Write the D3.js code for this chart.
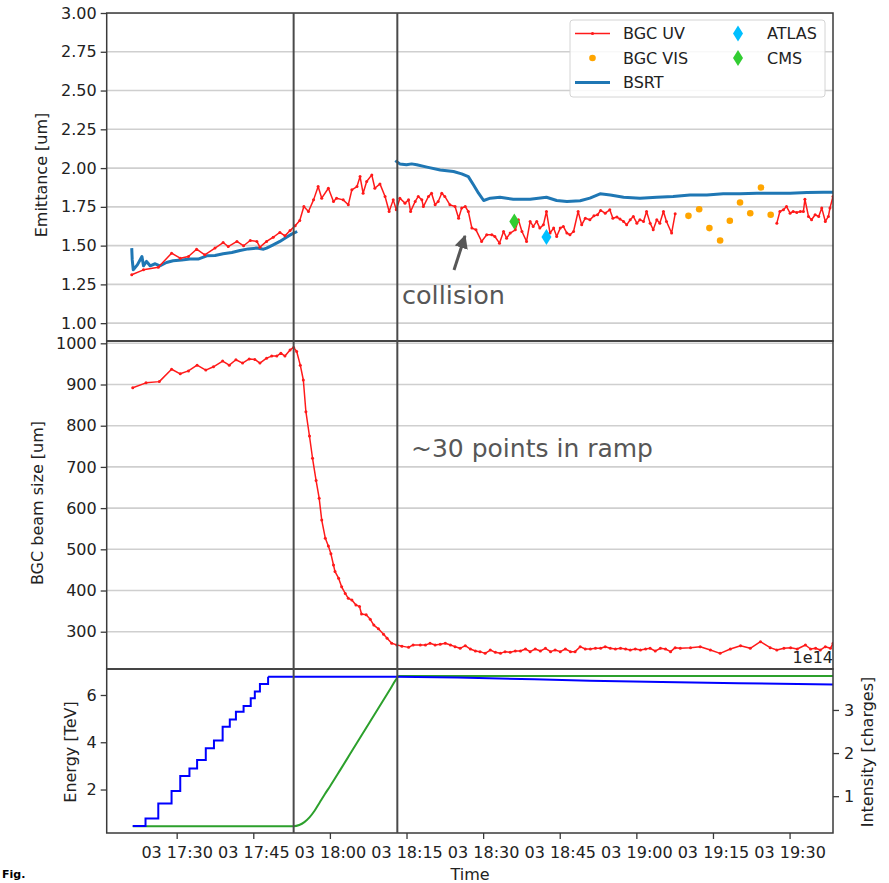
<!DOCTYPE html>
<html>
<head>
<meta charset="utf-8">
<script src="https://cdn.jsdelivr.net/npm/d3@7"></script>
<style>
  html, body { margin: 0; padding: 0; background: #fff; }
  svg { display: block; font-family: "DejaVu Sans", sans-serif; }
</style>
</head>
<body>
<svg id="chart" width="889" height="883"></svg>
<script>
// ---- data (times in minutes after 17:00 on day 03) ----
const xTickMinutes = [30, 45, 60, 75, 90, 105, 120, 135, 150];
const emitTicks = [1.00, 1.25, 1.50, 1.75, 2.00, 2.25, 2.50, 2.75, 3.00];
const sizeTicks = [300, 400, 500, 600, 700, 800, 900, 1000];
const energyTicks = [2, 4, 6];
const intensityTicks = [1, 2, 3];

// BGC UV emittance [um] (null marks the gap in the data)
const uvEmitTime = [21.2, 23.5, 26.4, 29.0, 30.7, 32.3, 33.9, 35.5, 37.5, 39.1, 40.1, 41.8, 43.1, 44.4, 45.7, 46.3, 47.6, 48.9, 50.2, 51.2, 52.2, 53.2, 54.1, 54.9, 55.8, 56.8, 57.7, 58.4, 59.7, 60.7, 61.3, 62.6, 63.6, 64.3, 65.3, 65.9, 66.5, 67.2, 68.2, 68.8, 69.8, 70.8, 71.6,
  72.4, 73.0, 73.7, 74.7, 75.4, 75.8, 76.7, 77.3, 78.0, 78.3, 79.3, 79.9, 80.6, 81.2, 81.9, 82.5, 83.5, 84.5, 85.2, 85.8, 86.5, 87.1, 87.8, 88.6, 89.7, 90.7, 91.7, 92.3, 93.2, 94.0, 94.6, 95.3, 96.3, 96.9, 97.6, 98.5, 99.2, 99.8, 100.5, 101.1, 101.8, 102.4, 103.1, 103.8, 104.4, 105.1, 105.7, 106.4, 107.0, 107.7, 108.6, 109.3, 110.0, 110.9, 111.7, 112.4, 113.0, 113.9, 114.8, 115.4, 116.2, 116.8, 117.5, 118.1, 118.8, 119.4, 120.1, 120.7, 121.4, 122.0, 122.7, 123.3, 124.0, 124.6, 125.3, 125.9, 126.9, 127.6,
  137.0,
  147.5, 148.1, 148.8, 149.4, 150.1, 150.7, 151.4, 152.1, 152.7, 153.0, 153.7, 154.3, 155.0, 155.7, 156.3, 157.0, 157.6, 157.9, 158.5];
const uvEmit = [1.312, 1.344, 1.361, 1.451, 1.419, 1.430, 1.477, 1.441, 1.484, 1.520, 1.494, 1.527, 1.499, 1.533, 1.527, 1.490, 1.527, 1.554, 1.585, 1.563, 1.597, 1.628, 1.662, 1.752, 1.720, 1.795, 1.881, 1.806, 1.870, 1.784, 1.806, 1.795, 1.763, 1.860, 1.881, 1.945, 1.838, 1.913, 1.956, 1.870, 1.898, 1.817, 1.720,
  1.795, 1.731, 1.806, 1.774, 1.795, 1.720, 1.785, 1.817, 1.795, 1.752, 1.817, 1.838, 1.763, 1.785, 1.838, 1.817, 1.763, 1.752, 1.677, 1.742, 1.752, 1.720, 1.613, 1.602, 1.527, 1.570, 1.570, 1.559, 1.516, 1.591, 1.548, 1.581, 1.602, 1.667, 1.591, 1.527, 1.656, 1.624, 1.656, 1.613, 1.634, 1.720, 1.581, 1.613, 1.559, 1.613, 1.624, 1.581, 1.570, 1.591, 1.720, 1.634, 1.677, 1.667, 1.692, 1.699, 1.727, 1.709, 1.731, 1.677, 1.684, 1.671, 1.656, 1.634, 1.667, 1.688, 1.645, 1.667, 1.656, 1.720, 1.645, 1.602, 1.667, 1.645, 1.720, 1.656, 1.581, 1.705,
  null,
  1.645, 1.720, 1.731, 1.752, 1.709, 1.720, 1.714, 1.720, 1.720, 1.799, 1.688, 1.667, 1.699, 1.688, 1.742, 1.656, 1.688, 1.742, 1.817];

// BGC VIS emittance [um]
const visTime = [130.2, 132.3, 134.3, 136.4, 138.3, 140.3, 142.3, 144.4, 146.3];
const visEmit = [1.692, 1.735, 1.613, 1.533, 1.660, 1.778, 1.709, 1.875, 1.699];

// BSRT emittance [um]
const bsrtTime = [21.2, 21.3, 21.5, 22.3, 23.2, 23.5, 24.1, 24.8, 25.8, 26.7, 28.0, 29.3, 31.0, 32.6, 34.2, 35.9, 37.5, 39.1, 40.8, 42.4, 44.0, 45.7, 47.0, 47.6, 48.9, 50.2, 51.5, 52.5, 53.6,
  63.0,
  72.8, 73.7, 75.0, 76.0, 77.0, 79.0, 81.6, 84.2, 85.8, 87.1, 88.1, 89.1, 90.1, 91.4, 93.3, 95.9, 99.2, 102.4, 104.4, 106.4, 109.0, 110.9, 112.9, 114.9, 117.5, 120.7, 124.0, 127.2, 130.5, 133.8, 137.0, 140.3, 143.6, 146.8, 150.1, 153.4, 156.6, 158.5];
const bsrtEmit = [1.484, 1.408, 1.344, 1.376, 1.430, 1.370, 1.398, 1.370, 1.383, 1.370, 1.391, 1.402, 1.408, 1.413, 1.413, 1.434, 1.436, 1.447, 1.456, 1.469, 1.479, 1.484, 1.477, 1.484, 1.505, 1.527, 1.554, 1.574, 1.591,
  null,
  2.048, 2.027, 2.021, 2.027, 2.021, 2.006, 1.988, 1.978, 1.963, 1.945, 1.892, 1.838, 1.791, 1.806, 1.812, 1.799, 1.799, 1.812, 1.791, 1.785, 1.789, 1.806, 1.834, 1.827, 1.812, 1.806, 1.812, 1.817, 1.827, 1.827, 1.834, 1.834, 1.838, 1.838, 1.838, 1.842, 1.844, 1.844];

// Experiment emittance points [um]
const atlasTime = [102.4], atlasEmit = [1.555];
const cmsTime = [96.1], cmsEmit = [1.656];

// BGC UV beam size [um]
const uvSizeTime = [21.4, 24.0, 26.6, 29.0, 30.7, 32.3, 34.0, 35.7, 37.2, 39.0, 40.3, 41.6, 42.9, 44.2, 45.3, 46.3, 47.6, 48.6, 49.6, 50.4, 51.2, 52.2, 52.9, 53.5,
  54.2, 54.8, 55.3, 56.0, 56.6, 57.3, 57.9, 58.4, 59.1, 59.7, 60.2, 60.7, 61.0, 61.7, 62.3, 63.0, 63.6, 64.3, 65.1, 65.8, 66.2, 67.1, 67.9, 68.6, 69.5, 70.5, 71.2, 72.1, 73.1, 74.1, 75.4, 76.3, 77.7,
  78.7, 79.6, 80.6, 81.6, 82.6, 83.6, 84.5, 85.5, 86.5, 87.5, 88.5, 89.4, 90.4, 91.4, 92.4, 93.4, 94.3, 95.3, 96.3, 97.3, 98.3, 99.2, 100.2, 101.2, 102.2, 103.2, 104.1, 105.1, 106.1, 107.1, 108.0, 109.0, 110.0, 111.0, 112.0, 113.0, 113.9, 114.9, 115.9, 116.9, 117.9, 118.8, 119.8, 120.8, 121.8, 122.7, 123.7, 124.7, 125.7, 126.7, 127.6, 128.6,
  130.6, 132.5, 134.5, 136.4, 138.4, 140.4, 142.3, 144.3, 146.2, 147.5, 148.9, 150.2, 151.5, 153.1, 154.1, 155.1, 156.0, 157.0, 158.0, 158.5];
const uvSize = [892, 904, 907, 937, 926, 933, 947, 935, 943, 957, 947, 960, 952, 962, 961, 952, 964, 969, 969, 976, 969, 984, 990, 980,
  947, 911, 834, 775, 721, 667, 624, 571, 527, 508, 489, 462, 446, 430, 409, 393, 381, 377, 365, 361, 343, 341, 330, 316, 307, 294, 284, 272, 268, 265, 262, 268, 268,
  267.8, 271.8, 267.8, 269.4, 271.8, 267.8, 263.7, 259.7, 266.1, 258.0, 253.2, 251.6, 247.5, 255.6, 250.0, 247.5, 251.6, 250.0, 253.2, 253.2, 258.0, 251.6, 258.0, 253.2, 259.7, 251.6, 255.6, 251.6, 258.0, 251.6, 251.6, 263.7, 258.0, 258.0, 259.7, 259.7, 263.7, 259.7, 258.0, 259.7, 258.0, 255.6, 258.0, 255.6, 258.0, 259.7, 253.2, 259.7, 258.0, 251.6, 261.3, 259.7,
  261.3, 263.7, 255.6, 247.5, 258.0, 266.1, 259.7, 275.8, 261.3, 255.6, 259.7, 261.3, 258.0, 267.8, 258.0, 259.7, 255.6, 263.7, 259.7, 271.8];

// Beam energy [TeV]
const energyTime = [21.4, 52.9, 54.0, 55.0, 56.0, 57.0, 58.0, 59.0, 60.0, 62.0, 64.0, 66.0, 68.0, 70.0, 72.0, 73.0, 73.5, 158.5];
const energy = [0.45, 0.45, 0.50, 0.62, 0.82, 1.10, 1.45, 1.80, 2.13, 2.82, 3.52, 4.22, 4.92, 5.62, 6.32, 6.67, 6.80, 6.80];

// Beam intensity [1e14 charges]: injection steps, then slow decay
const injTime = [21.4, 23.9, 26.4, 29.0, 30.7, 32.5, 34.0, 35.7, 37.3, 39.0, 40.4, 41.6, 43.1, 44.5, 45.3, 46.3, 47.9];
const injIntensity = [0.31, 0.48, 0.83, 1.12, 1.47, 1.64, 1.84, 2.11, 2.29, 2.61, 2.78, 2.96, 3.09, 3.27, 3.43, 3.60, 3.77];
const decayTime = [47.9, 60.0, 73.0, 85.0, 100.0, 110.9, 125.0, 140.0, 158.5];
const decayIntensity = [3.77, 3.77, 3.77, 3.75, 3.71, 3.68, 3.65, 3.62, 3.59];

// Phase markers: start of ramp, start of collisions
const markerTimes = [52.9, 73.2];

// ---- helpers ----
const toDate = m => new Date(2018, 5, 3, 17, 0, Math.round(m * 60));
const zip = (ts, vs) => ts.map((t, i) => ({ t: toDate(t), v: vs[i] }));

const svg = d3.select("#chart");
const X0 = 106.7, X1 = 833;
const panels = { top: [13, 341], mid: [341, 669], bot: [669, 833] };
const TXT = "#222";
const SPINE = "#3a3a3a";
const GRID = "#cfcfcf";

const x = d3.scaleTime().domain([toDate(16.3), toDate(158.5)]).range([X0, X1]);
const yEmit = d3.scaleLinear().domain([0.885, 3.0]).range([panels.top[1], panels.top[0]]);
const ySize = d3.scaleLinear().domain([209.5, 1005.6]).range([panels.mid[1], panels.mid[0]]);
const yEnergy = d3.scaleLinear().domain([0.16, 7.1]).range([panels.bot[1], panels.bot[0]]);
const yInt = d3.scaleLinear().domain([0.146, 3.95]).range([panels.bot[1], panels.bot[0]]);

const defs = svg.append("defs");
Object.entries(panels).forEach(([k, [y0, y1]]) => {
  defs.append("clipPath").attr("id", "clip-" + k)
    .append("rect").attr("x", X0).attr("y", y0).attr("width", X1 - X0).attr("height", y1 - y0);
});

function styleAxis(g) {
  g.select(".domain").remove();
  g.selectAll(".tick line").attr("stroke", SPINE).attr("stroke-width", 1.3);
  g.selectAll(".tick text").attr("fill", TXT).style("font-size", "16px")
    .style("font-family", '"DejaVu Sans", sans-serif');
}

function grid(yScale, ticks, clip) {
  svg.append("g").attr("clip-path", `url(#clip-${clip})`)
    .selectAll("line").data(ticks).join("line")
    .attr("x1", X0).attr("x2", X1)
    .attr("y1", d => yScale(d)).attr("y2", d => yScale(d))
    .attr("stroke", GRID).attr("stroke-width", 1.6);
}

function yLabel(text, cx, cy) {
  svg.append("text").attr("transform", `translate(${cx},${cy}) rotate(-90)`)
    .attr("text-anchor", "middle").attr("dy", "0.35em")
    .attr("fill", TXT).style("font-size", "16px").text(text);
}

function redLine(data, yScale, clip) {
  const g = svg.append("g").attr("clip-path", `url(#clip-${clip})`);
  g.append("path").datum(data)
    .attr("fill", "none").attr("stroke", "#ff1a1a").attr("stroke-width", 1.5)
    .attr("stroke-linejoin", "round")
    .attr("d", d3.line().defined(d => d.v !== null).x(d => x(d.t)).y(d => yScale(d.v)));
  g.selectAll("circle").data(data.filter(d => d.v !== null)).join("circle")
    .attr("cx", d => x(d.t)).attr("cy", d => yScale(d.v)).attr("r", 1.5).attr("fill", "#ff1a1a");
}

const diamond = (cx, cy, w, h) => `M${cx},${cy - h / 2}L${cx + w / 2},${cy}L${cx},${cy + h / 2}L${cx - w / 2},${cy}Z`;

// ---- top panel: emittance ----
grid(yEmit, emitTicks, "top");
const gTop = svg.append("g").attr("clip-path", "url(#clip-top)");
redLine(zip(uvEmitTime, uvEmit), yEmit, "top");
gTop.append("path").datum(zip(bsrtTime, bsrtEmit))
  .attr("fill", "none").attr("stroke", "#1f77b4").attr("stroke-width", 3)
  .attr("stroke-linejoin", "round")
  .attr("d", d3.line().defined(d => d.v !== null).x(d => x(d.t)).y(d => yEmit(d.v)));
const gTopPts = svg.append("g").attr("clip-path", "url(#clip-top)");
gTopPts.selectAll("circle.vis").data(zip(visTime, visEmit)).join("circle")
  .attr("class", "vis").attr("cx", d => x(d.t)).attr("cy", d => yEmit(d.v)).attr("r", 3.3).attr("fill", "#ffa500");
gTopPts.selectAll("path.cms").data(zip(cmsTime, cmsEmit)).join("path")
  .attr("class", "cms").attr("d", d => diamond(x(d.t), yEmit(d.v), 10, 16)).attr("fill", "#32cd32");
gTopPts.selectAll("path.atlas").data(zip(atlasTime, atlasEmit)).join("path")
  .attr("class", "atlas").attr("d", d => diamond(x(d.t), yEmit(d.v), 10, 16)).attr("fill", "#00bfff");

svg.append("g").attr("transform", `translate(${X0},0)`)
  .call(d3.axisLeft(yEmit).tickValues(emitTicks).tickFormat(d3.format(".2f")).tickSize(6).tickPadding(4))
  .call(styleAxis);
yLabel("Emittance [um]", 41.5, 175);

// ---- middle panel: BGC beam size ----
grid(ySize, sizeTicks, "mid");
redLine(zip(uvSizeTime, uvSize), ySize, "mid");
svg.append("g").attr("transform", `translate(${X0},0)`)
  .call(d3.axisLeft(ySize).tickValues(sizeTicks).tickFormat(d3.format("d")).tickSize(6).tickPadding(4))
  .call(styleAxis);
yLabel("BGC beam size [um]", 37, 503);

// ---- bottom panel: energy and intensity ----
const gBot = svg.append("g").attr("clip-path", "url(#clip-bot)");
gBot.append("path").datum(zip(energyTime, energy))
  .attr("fill", "none").attr("stroke", "#2ca02c").attr("stroke-width", 2)
  .attr("d", d3.line().curve(d3.curveMonotoneX).x(d => x(d.t)).y(d => yEnergy(d.v)));
gBot.append("path").datum(zip(injTime, injIntensity))
  .attr("fill", "none").attr("stroke", "#0000ff").attr("stroke-width", 2)
  .attr("d", d3.line().curve(d3.curveStepAfter).x(d => x(d.t)).y(d => yInt(d.v)));
gBot.append("path").datum(zip(decayTime, decayIntensity))
  .attr("fill", "none").attr("stroke", "#0000ff").attr("stroke-width", 2)
  .attr("d", d3.line().x(d => x(d.t)).y(d => yInt(d.v)));

svg.append("g").attr("transform", `translate(${X0},0)`)
  .call(d3.axisLeft(yEnergy).tickValues(energyTicks).tickFormat(d3.format("d")).tickSize(6).tickPadding(4))
  .call(styleAxis);
svg.append("g").attr("transform", `translate(${X1},0)`)
  .call(d3.axisRight(yInt).tickValues(intensityTicks).tickFormat(d3.format("d")).tickSize(6).tickPadding(5))
  .call(styleAxis);
yLabel("Energy [TeV]", 70, 752);
yLabel("Intensity [charges]", 867.5, 752);
svg.append("text").attr("x", X1).attr("y", 663).attr("text-anchor", "end")
  .attr("fill", TXT).style("font-size", "16px").text("1e14");

// time axis
svg.append("g").attr("transform", `translate(0,${panels.bot[1]})`)
  .call(d3.axisBottom(x).tickValues(xTickMinutes.map(toDate))
    .tickFormat(d3.timeFormat("%d %H:%M")).tickSize(6).tickPadding(8))
  .call(styleAxis);
svg.append("text").attr("x", 470).attr("y", 880).attr("text-anchor", "middle")
  .attr("fill", TXT).style("font-size", "16px").text("Time");

// ---- frames ----
Object.values(panels).forEach(([y0, y1]) => {
  svg.append("rect").attr("x", X0).attr("y", y0).attr("width", X1 - X0).attr("height", y1 - y0)
    .attr("fill", "none").attr("stroke", SPINE).attr("stroke-width", 1.5);
});

// phase markers across all panels
svg.selectAll("line.phase").data(markerTimes).join("line")
  .attr("class", "phase")
  .attr("x1", d => x(toDate(d))).attr("x2", d => x(toDate(d)))
  .attr("y1", panels.top[0]).attr("y2", panels.bot[1])
  .attr("stroke", "#4a4a4a").attr("stroke-width", 2);

// ---- annotations ----
const ANN = "#575757";
svg.append("text").attr("x", 402).attr("y", 304).attr("fill", ANN).style("font-size", "25.5px").text("collision");
svg.append("text").attr("x", 411).attr("y", 457).attr("fill", ANN).style("font-size", "25px").text("~30 points in ramp");
defs.append("marker").attr("id", "arrowhead").attr("viewBox", "0 0 10 10")
  .attr("refX", 9).attr("refY", 5).attr("markerWidth", 4.5).attr("markerHeight", 4.5)
  .attr("markerUnits", "strokeWidth").attr("orient", "auto")
  .append("path").attr("d", "M0,0L10,5L0,10Z").attr("fill", ANN);
svg.append("line").attr("x1", 454).attr("y1", 270).attr("x2", 465).attr("y2", 236)
  .attr("stroke", ANN).attr("stroke-width", 3).attr("marker-end", "url(#arrowhead)");

// ---- legend ----
const lg = svg.append("g");
lg.append("rect").attr("x", 570).attr("y", 20).attr("width", 255).attr("height", 77).attr("rx", 3)
  .attr("fill", "#fff").attr("fill-opacity", 0.85).attr("stroke", "#d4d4d4").attr("stroke-width", 1);
const legendRows = [
  { label: "BGC UV", col: 0, row: 0, kind: "uv" },
  { label: "BGC VIS", col: 0, row: 1, kind: "vis" },
  { label: "BSRT", col: 0, row: 2, kind: "bsrt" },
  { label: "ATLAS", col: 1, row: 0, kind: "atlas" },
  { label: "CMS", col: 1, row: 1, kind: "cms" }
];
legendRows.forEach(r => {
  const cy = 33.5 + r.row * 24.5;
  const mx = r.col === 0 ? 592.5 : 738;
  const tx = r.col === 0 ? 623 : 767;
  if (r.kind === "uv") {
    lg.append("line").attr("x1", 575).attr("x2", 610).attr("y1", cy).attr("y2", cy).attr("stroke", "#ff1a1a").attr("stroke-width", 1.5);
    lg.append("circle").attr("cx", mx).attr("cy", cy).attr("r", 1.6).attr("fill", "#ff1a1a");
  } else if (r.kind === "vis") {
    lg.append("circle").attr("cx", mx).attr("cy", cy).attr("r", 3.3).attr("fill", "#ffa500");
  } else if (r.kind === "bsrt") {
    lg.append("line").attr("x1", 575).attr("x2", 610).attr("y1", cy).attr("y2", cy).attr("stroke", "#1f77b4").attr("stroke-width", 3);
  } else {
    lg.append("path").attr("d", diamond(mx, cy, 10, 16)).attr("fill", r.kind === "atlas" ? "#00bfff" : "#32cd32");
  }
  lg.append("text").attr("x", tx).attr("y", cy).attr("dy", "0.36em").attr("fill", TXT)
    .style("font-size", "16px").text(r.label);
});

// caption fragment at the page's lower-left edge
svg.append("text").attr("x", 2).attr("y", 878).attr("fill", "#000")
  .style("font-size", "11px").style("font-weight", "bold").text("Fig.");
</script>
</body>
</html>
